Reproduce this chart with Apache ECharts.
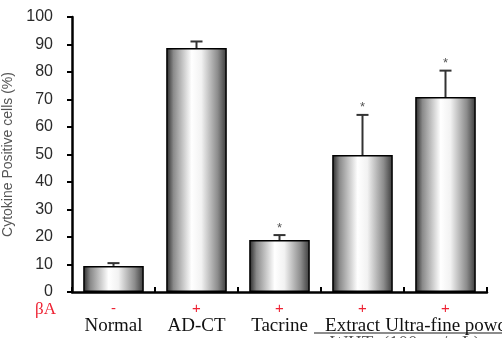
<!DOCTYPE html>
<html><head><meta charset="utf-8">
<script src="https://cdn.jsdelivr.net/npm/echarts@6/dist/echarts.min.js"></script>
<style>html,body{margin:0;padding:0;background:#fff}#c{width:502px;height:338px}</style>
</head><body><div id="c"></div>
<script>
var categories = ['Normal', 'AD-CT', 'Tacrine', 'Extract', 'Ultra-fine powder'];
var betaA = ['-', '+', '+', '+', '+'];
var values = [9.5, 88.7, 18.9, 49.8, 70.9];
var errors = [1.0, 2.4, 1.8, 14.6, 9.6];
var sig = ['', '', '*', '*', '*'];
var yTicks = [0, 10, 20, 30, 40, 50, 60, 70, 80, 90, 100];

var chart = echarts.init(document.getElementById('c'), null, {renderer: 'canvas'});
var grad = new echarts.graphic.LinearGradient(0, 0, 1, 0, [
  {offset: 0, color: '#262626'},
  {offset: 0.12, color: '#8a8a8a'},
  {offset: 0.42, color: '#ffffff'},
  {offset: 0.58, color: '#f2f2f2'},
  {offset: 0.85, color: '#8c8c8c'},
  {offset: 1, color: '#3a3a3a'}
]);
var nameStyles = ['n', 'n', 'n', 'ne', 'nu'];
var option = {
  animation: false,
  grid: {left: 72, right: 15, top: 17, bottom: 46, containLabel: false, outerBoundsMode: 'none'},
  xAxis: {
    type: 'category', data: categories,
    axisLine: {lineStyle: {color: '#000', width: 2.5}},
    axisTick: {show: true, inside: true, length: 5, lineStyle: {color: '#000', width: 2}},
    axisLabel: {
      interval: 0, margin: 8, hideOverlap: false,
      formatter: function (v, i) { return '{s|' + betaA[i] + '}\n{' + nameStyles[i] + '|' + v + '}'; },
      rich: {
        s: {color: '#ee2233', fontFamily: 'Liberation Sans', fontSize: 15, lineHeight: 18},
        n: {color: '#111', fontFamily: 'Liberation Serif', fontSize: 19, lineHeight: 16},
        ne: {color: '#111', fontFamily: 'Liberation Serif', fontSize: 19, lineHeight: 16, padding: [0, 20, 0, 0]},
        nu: {color: '#111', fontFamily: 'Liberation Serif', fontSize: 19, lineHeight: 16, padding: [0, 0, 0, 16]}
      }
    }
  },
  yAxis: {
    type: 'value', min: 0, max: 100, interval: 10,
    name: 'Cytokine Positive cells (%)', nameLocation: 'middle', nameGap: 52, nameRotate: 90,
    nameTextStyle: {color: '#555', fontFamily: 'Liberation Sans', fontSize: 14},
    axisLine: {show: true, lineStyle: {color: '#000', width: 2.5}},
    axisTick: {show: true, length: 5, lineStyle: {color: '#000', width: 2}},
    splitLine: {show: false},
    axisLabel: {color: '#2a2a2a', fontFamily: 'Liberation Sans', fontSize: 16, margin: 19,
      formatter: function (v) { return yTicks.indexOf(v) >= 0 ? String(v) : ''; }}
  },
  graphic: [
    {type: 'text', left: 35, top: 301, style: {text: 'βA', fill: '#ee2233', font: '17px "Liberation Serif"'}},
    {type: 'line', shape: {x1: 314, y1: 333, x2: 502, y2: 333}, style: {stroke: '#666', lineWidth: 1.5}},
    {type: 'text', left: 330, top: 335, style: {text: 'WHT  (100 μg/mL)', fill: '#555', font: '19px "Liberation Serif"'}}
  ],
  series: [
    {
      type: 'bar', data: values, barWidth: '73%', z: 2,
      itemStyle: {color: grad, borderColor: '#000', borderWidth: 1.5}
    },
    {
      type: 'custom', z: 3,
      data: values.map(function (v, i) { return [i, v, v + errors[i]]; }),
      renderItem: function (params, api) {
        var i = api.value(0);
        var p0 = api.coord([i, api.value(1)]);
        var p1 = api.coord([i, api.value(2)]);
        var children = [
          {type: 'line', shape: {x1: p0[0], y1: p0[1], x2: p1[0], y2: p1[1]}, style: {stroke: '#333', lineWidth: 2}},
          {type: 'line', shape: {x1: p1[0] - 6, y1: p1[1], x2: p1[0] + 6, y2: p1[1]}, style: {stroke: '#333', lineWidth: 2}}
        ];
        if (sig[i]) {
          children.push({type: 'text', x: p1[0], y: p1[1] - 7, style: {text: sig[i], fill: '#555', font: '13px "Liberation Sans"', align: 'center', verticalAlign: 'middle'}});
        }
        return {type: 'group', children: children};
      }
    }
  ]
};
chart.setOption(option);
</script></body></html>
